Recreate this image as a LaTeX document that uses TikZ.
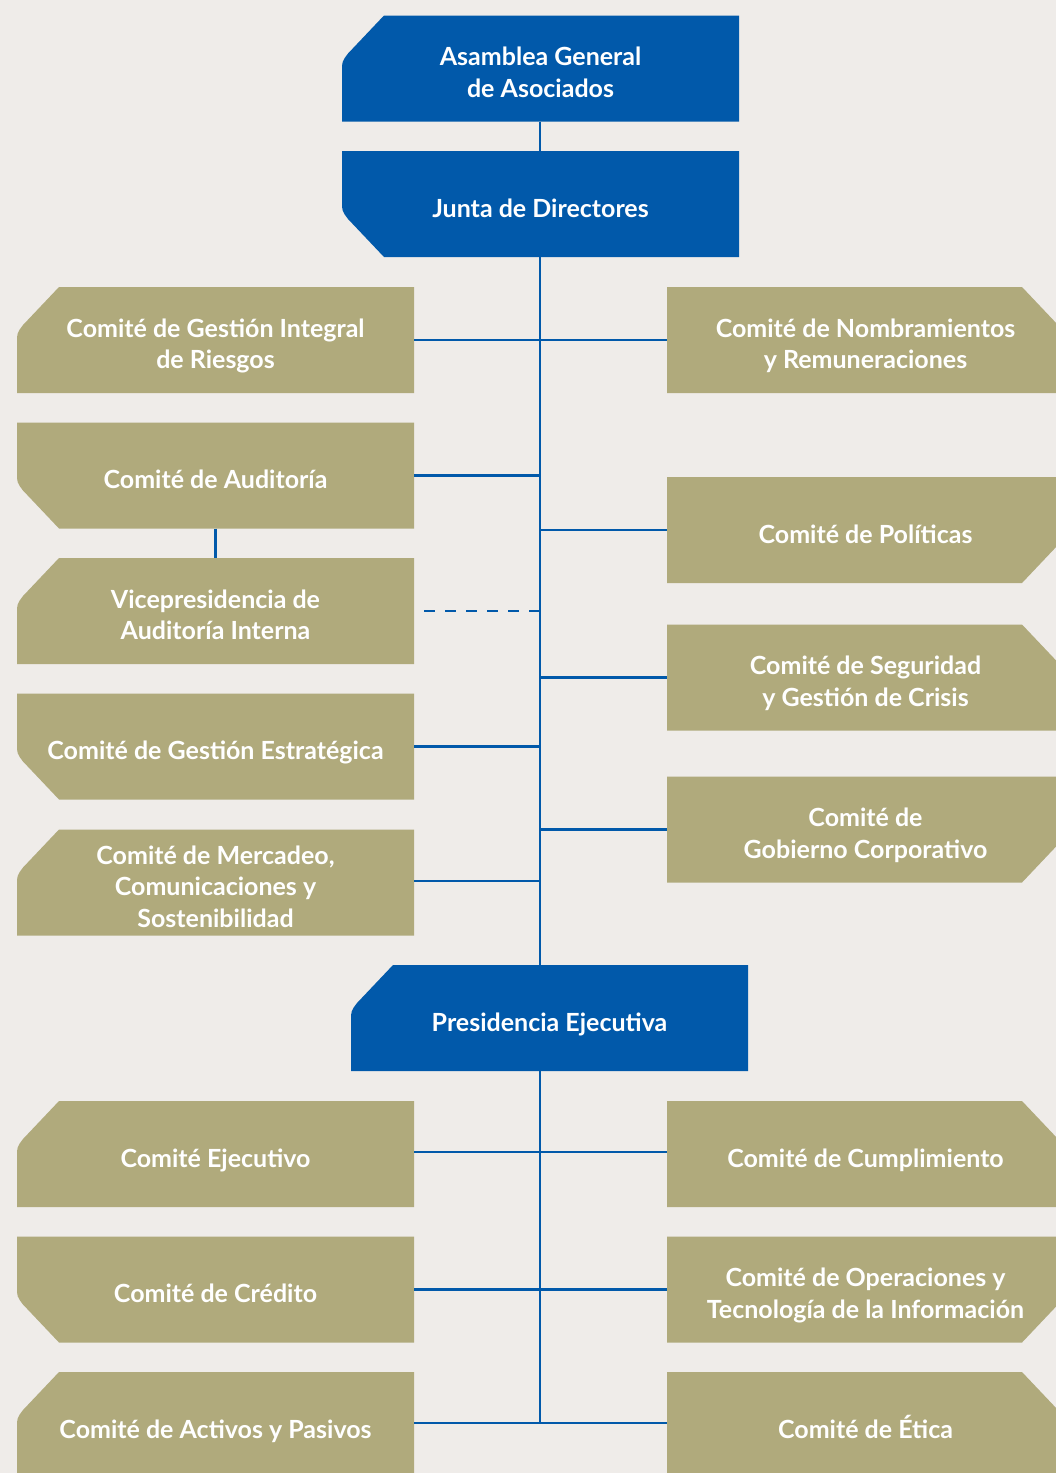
\documentclass[tikz,border=0pt]{standalone}
\usepackage{fontspec}
\setmainfont{Lato}
\usetikzlibrary{calc}
\definecolor{bgc}{RGB}{239,236,233}
\definecolor{blu}{RGB}{1,89,170}
\definecolor{oli}{RGB}{176,170,124}
\tikzset{
  box/.style={minimum width=397pt, minimum height=106pt, inner sep=0pt, text=white,
    align=center, font=\fontsize{25}{31.5}\selectfont\bfseries,
    text height=26pt, text depth=0pt},
  ml/.style={text height=57pt, text depth=0pt},
  ml3/.style={text height=89pt, text depth=0pt},
  ctl/.style={path picture={
    \coordinate (nw) at (path picture bounding box.north west);
    \coordinate (ne) at (path picture bounding box.north east);
    \coordinate (sw) at (path picture bounding box.south west);
    \coordinate (se) at (path picture bounding box.south east);
    \fill[#1] ($(nw)+(42pt,0pt)$) -- (ne) -- (se) -- (sw) -- ($(nw)+(0pt,-56pt)$)
      .. controls ($(nw)+(0pt,-46pt)$) .. ($(nw)+(6pt,-38pt)$) -- cycle;}},
  cbl/.style={path picture={
    \coordinate (nw) at (path picture bounding box.north west);
    \coordinate (ne) at (path picture bounding box.north east);
    \coordinate (sw) at (path picture bounding box.south west);
    \coordinate (se) at (path picture bounding box.south east);
    \fill[#1] (nw) -- (ne) -- (se) -- ($(sw)+(42pt,0pt)$) -- ($(sw)+(6pt,38pt)$)
      .. controls ($(sw)+(0pt,46pt)$) .. ($(sw)+(0pt,56pt)$) -- cycle;}},
  ctr/.style={path picture={
    \coordinate (nw) at (path picture bounding box.north west);
    \coordinate (ne) at (path picture bounding box.north east);
    \coordinate (sw) at (path picture bounding box.south west);
    \coordinate (se) at (path picture bounding box.south east);
    \fill[#1] (nw) -- ($(ne)+(-42pt,0pt)$) -- ($(ne)+(-6pt,-38pt)$)
      .. controls ($(ne)+(0pt,-46pt)$) .. ($(ne)+(0pt,-56pt)$) -- (se) -- (sw) -- cycle;}},
  cbr/.style={path picture={
    \coordinate (nw) at (path picture bounding box.north west);
    \coordinate (ne) at (path picture bounding box.north east);
    \coordinate (sw) at (path picture bounding box.south west);
    \coordinate (se) at (path picture bounding box.south east);
    \fill[#1] (nw) -- (ne) -- ($(se)+(0pt,56pt)$) .. controls ($(se)+(0pt,46pt)$) ..
      ($(se)+(-6pt,38pt)$) -- ($(se)+(-42pt,0pt)$) -- (sw) -- cycle;}},
  conn/.style={draw=blu, line width=2.6pt},
  dconn/.style={draw=blu, line width=2.6pt, dash pattern=on 11pt off 10pt}
}
\begin{document}
\begin{tikzpicture}[x=1pt,y=-1pt]
\useasboundingbox (0,0) rectangle (1056,1473);
\fill[bgc] (0,0) rectangle (1056,1473);
\clip (0,0) rectangle (1056,1473);
% top
\node[box, ml, ctl=blu] (asam) at (540.5,68.5) {Asamblea General\\de Asociados};
\node[box, cbl=blu] (junta) at (540.5,204) {Junta de Directores};
% left column
\node[box, ml, ctl=oli] (gir) at (215.5,340) {Comité de Gestión Integral\\de Riesgos};
\node[box, cbl=oli] (aud) at (215.5,475.5) {Comité de Auditoría};
\node[box, ml, ctl=oli] (vp) at (215.5,611) {Vicepresidencia de\\Auditoría Interna};
\node[box, cbl=oli] (est) at (215.5,746.5) {Comité de Gestión Estratégica};
\node[box, ml3, ctl=oli] (mer) at (215.5,882.5) {Comité de Mercadeo,\\Comunicaciones y\\Sostenibilidad};
% right column
\node[box, ml, ctr=oli] (nom) at (865.5,340) {Comité de Nombramientos\\y Remuneraciones};
\node[box, cbr=oli] (pol) at (865.5,530) {Comité de Políticas};
\node[box, ml, ctr=oli] (seg) at (865.5,677.5) {Comité de Seguridad\\y Gestión de Crisis};
\node[box, ml, cbr=oli] (gob) at (865.5,829.5) {Comité de\\Gobierno Corporativo};
% presidencia
\node[box, ctl=blu] (pres) at (549.5,1018) {Presidencia Ejecutiva};
% lower
\node[box, ctl=oli] (eje) at (215.5,1154) {Comité Ejecutivo};
\node[box, cbl=oli] (cre) at (215.5,1289.5) {Comité de Crédito};
\node[box, ctl=oli] (act) at (215.5,1425) {Comité de Activos y Pasivos};
\node[box, ctr=oli] (cum) at (865.5,1154) {Comité de Cumplimiento};
\node[box, ml, cbr=oli] (ope) at (865.5,1289.5) {Comité de Operaciones y\\Tecnología de la Información};
\node[box, ctr=oli] (eti) at (865.5,1425) {Comité de Ética};
% connectors
\coordinate (tb) at (540,1423);
\draw[conn] (asam.south -| 540,0) -- (junta.north -| 540,0);
\draw[conn] (junta.south -| 540,0) -- (pres.north -| 540,0);
\draw[conn] (pres.south -| 540,0) -- (tb);
\draw[conn] (gir.east) -- (nom.west);
\draw[conn] (aud.east) -- (aud.east -| tb);
\draw[conn] (pol.west) -- (pol.west -| tb);
\draw[conn] (aud.south) -- (vp.north);
\draw[dconn] ([xshift=10pt]vp.east) -- (vp.east -| tb);
\draw[conn] (seg.west) -- (seg.west -| tb);
\draw[conn] (est.east) -- (est.east -| tb);
\draw[conn] (gob.west) -- (gob.west -| tb);
\draw[conn] ([yshift=1.5pt]mer.east) -- ([yshift=1.5pt]mer.east -| tb);
\draw[conn] ([yshift=2pt]eje.east) -- ([yshift=2pt]cum.west);
\draw[conn] (cre.east) -- (ope.west);
\draw[conn] ([yshift=2pt]act.east) -- ([yshift=2pt]eti.west);
\end{tikzpicture}
\end{document}
